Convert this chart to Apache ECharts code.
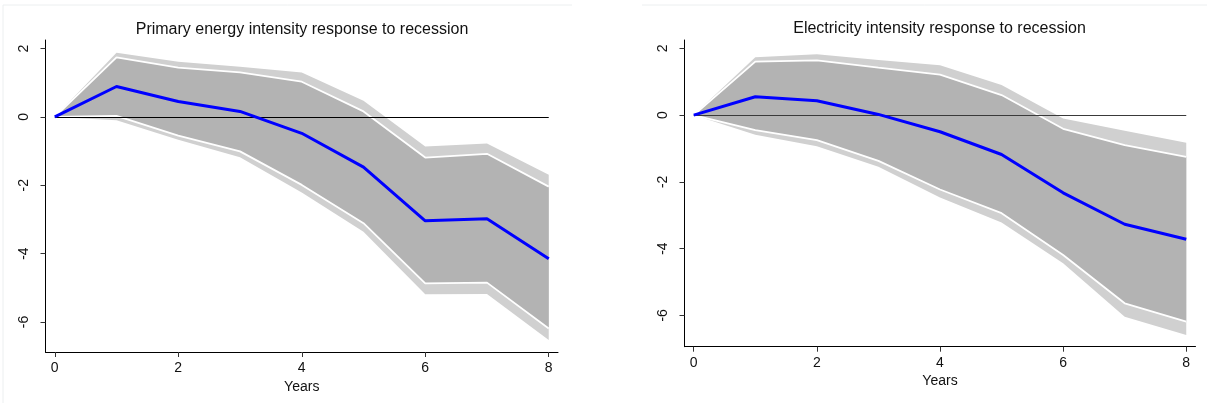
<!DOCTYPE html>
<html>
<head>
<meta charset="utf-8">
<title>Intensity response to recession</title>
<script src="https://cdn.jsdelivr.net/npm/echarts@6/dist/echarts.min.js"></script>
<style>
    html, body { margin: 0; padding: 0; background: #fff; }
    #chart { width: 1207px; height: 403px; }
</style>
</head>
<body>
<div id="chart"></div>
<script>
// horizon (years after recession)
var years = [0, 1, 2, 3, 4, 5, 6, 7, 8];
var xTicks = [0, 2, 4, 6, 8];
var yTicks = [-6, -4, -2, 0, 2];

// primary energy intensity: point estimate and bands
var peMean = [0, 0.89, 0.45, 0.16, -0.48, -1.47, -3.04, -2.98, -4.15];
var peHi90 = [0, 1.88, 1.61, 1.47, 1.30, 0.47, -0.87, -0.78, -1.69];
var peHi68 = [0, 1.74, 1.44, 1.30, 1.03, 0.16, -1.19, -1.08, -2.04];
var peLo68 = [0, 0.03, -0.55, -1.01, -1.99, -3.11, -4.87, -4.85, -6.19];
var peLo90 = [0, -0.10, -0.67, -1.18, -2.21, -3.36, -5.19, -5.18, -6.53];

// electricity intensity: point estimate and bands
var elMean = [0, 0.55, 0.43, 0.02, -0.50, -1.18, -2.33, -3.27, -3.72];
var elHi90 = [0, 1.73, 1.82, 1.65, 1.49, 0.90, -0.10, -0.47, -0.83];
var elHi68 = [0, 1.60, 1.64, 1.42, 1.21, 0.60, -0.41, -0.90, -1.25];
var elLo68 = [0, -0.45, -0.75, -1.37, -2.23, -2.94, -4.19, -5.64, -6.19];
var elLo90 = [0, -0.59, -0.93, -1.55, -2.47, -3.22, -4.44, -6.04, -6.59];

(function () {
    var myChart = echarts.init(document.getElementById('chart'));
    var font = '"Liberation Sans", Arial, sans-serif';

    function pairs(ys) {
        return years.map(function (x, i) { return [x, ys[i]]; });
    }

    // shaded band: one polygon between lo and hi, placed with api.coord
    function band(idx, lo, hi, color) {
        return {
            type: 'custom', xAxisIndex: idx, yAxisIndex: idx,
            silent: true, z: 1,
            data: years.map(function (x, i) { return [x, lo[i], hi[i]]; }),
            encode: { x: 0, y: [1, 2] },
            renderItem: function (params, api) {
                if (params.dataIndex !== 0) return;
                var pts = [];
                years.forEach(function (x, i) { pts.push(api.coord([x, hi[i]])); });
                for (var i = years.length - 1; i >= 0; i--) {
                    pts.push(api.coord([years[i], lo[i]]));
                }
                return {
                    type: 'polygon',
                    shape: { points: pts },
                    style: { fill: color, stroke: null }
                };
            }
        };
    }

    function whiteLine(idx, ys, zeroColor) {
        var s = {
            type: 'line', xAxisIndex: idx, yAxisIndex: idx,
            data: pairs(ys), symbol: 'none', silent: true,
            lineStyle: { color: '#fff', width: 1.8 }, z: 3
        };
        if (zeroColor) {
            // horizontal zero reference line
            s.markLine = {
                silent: true, symbol: ['none', 'none'],
                label: { show: false },
                lineStyle: { color: zeroColor, width: 1, type: 'solid' },
                data: [[{ coord: [0, 0] }, { coord: [8, 0] }]]
            };
        }
        return s;
    }

    function meanLine(idx, ys) {
        return {
            type: 'line', xAxisIndex: idx, yAxisIndex: idx,
            data: pairs(ys), symbol: 'none', silent: true,
            lineStyle: { color: '#0000ff', width: 3 }, z: 5
        };
    }

    function xAxis(idx) {
        return {
            gridIndex: idx, type: 'value', min: -0.15, max: 8.15,
            name: 'Years', nameLocation: 'middle', nameGap: 24,
            nameTextStyle: { color: '#111', fontSize: 14, fontFamily: font },
            axisLine: { show: true, onZero: false, lineStyle: { color: '#000', width: 1 } },
            axisTick: { show: true, customValues: xTicks, length: 5, lineStyle: { color: '#333' } },
            axisLabel: { customValues: xTicks, margin: 9, fontSize: 14, color: '#111', fontFamily: font },
            splitLine: { show: false }
        };
    }

    function yAxis(idx, min) {
        return {
            gridIndex: idx, type: 'value', min: min, max: 2.25,
            axisLine: { show: true, onZero: false, lineStyle: { color: '#000', width: 1 } },
            axisTick: { show: true, customValues: yTicks, length: 5, lineStyle: { color: '#333' } },
            axisLabel: { customValues: yTicks, rotate: 90, margin: 14, fontSize: 14, color: '#111', fontFamily: font },
            splitLine: { show: false }
        };
    }

    var option = {
        animation: false,
        backgroundColor: '#fff',
        grid: [
            { left: 45.5, top: 40, width: 512.5, height: 312 },
            { left: 684.5, top: 40, width: 511, height: 306.7 }
        ],
        xAxis: [xAxis(0), xAxis(1)],
        yAxis: [yAxis(0, -6.88), yAxis(1, -6.94)],
        graphic: [
            // faint panel borders
            { type: 'line', shape: { x1: 3, y1: 5, x2: 572, y2: 5 }, style: { stroke: '#eceff0', lineWidth: 1 } },
            { type: 'line', shape: { x1: 3, y1: 5, x2: 3, y2: 403 }, style: { stroke: '#eceff0', lineWidth: 1 } },
            { type: 'line', shape: { x1: 642, y1: 5, x2: 1207, y2: 5 }, style: { stroke: '#eceff0', lineWidth: 1 } },
            // panel titles
            {
                type: 'text', x: 302, y: 30,
                style: { text: 'Primary energy intensity response to recession', fill: '#111',
                    font: '16px ' + font, textAlign: 'center', textVerticalAlign: 'middle' }
            },
            {
                type: 'text', x: 939.5, y: 29,
                style: { text: 'Electricity intensity response to recession', fill: '#111',
                    font: '16px ' + font, textAlign: 'center', textVerticalAlign: 'middle' }
            }
        ],
        series: [
            band(0, peLo90, peHi90, '#d0d0d0'),
            band(0, peLo68, peHi68, '#b3b3b3'),
            whiteLine(0, peHi68, '#000'),
            whiteLine(0, peLo68),
            meanLine(0, peMean),
            band(1, elLo90, elHi90, '#d0d0d0'),
            band(1, elLo68, elHi68, '#b3b3b3'),
            whiteLine(1, elHi68, '#3a3a3a'),
            whiteLine(1, elLo68),
            meanLine(1, elMean)
        ]
    };

    myChart.setOption(option);
    window.addEventListener('resize', function () {
        myChart.resize();
    });
})();
</script>
</body>
</html>
